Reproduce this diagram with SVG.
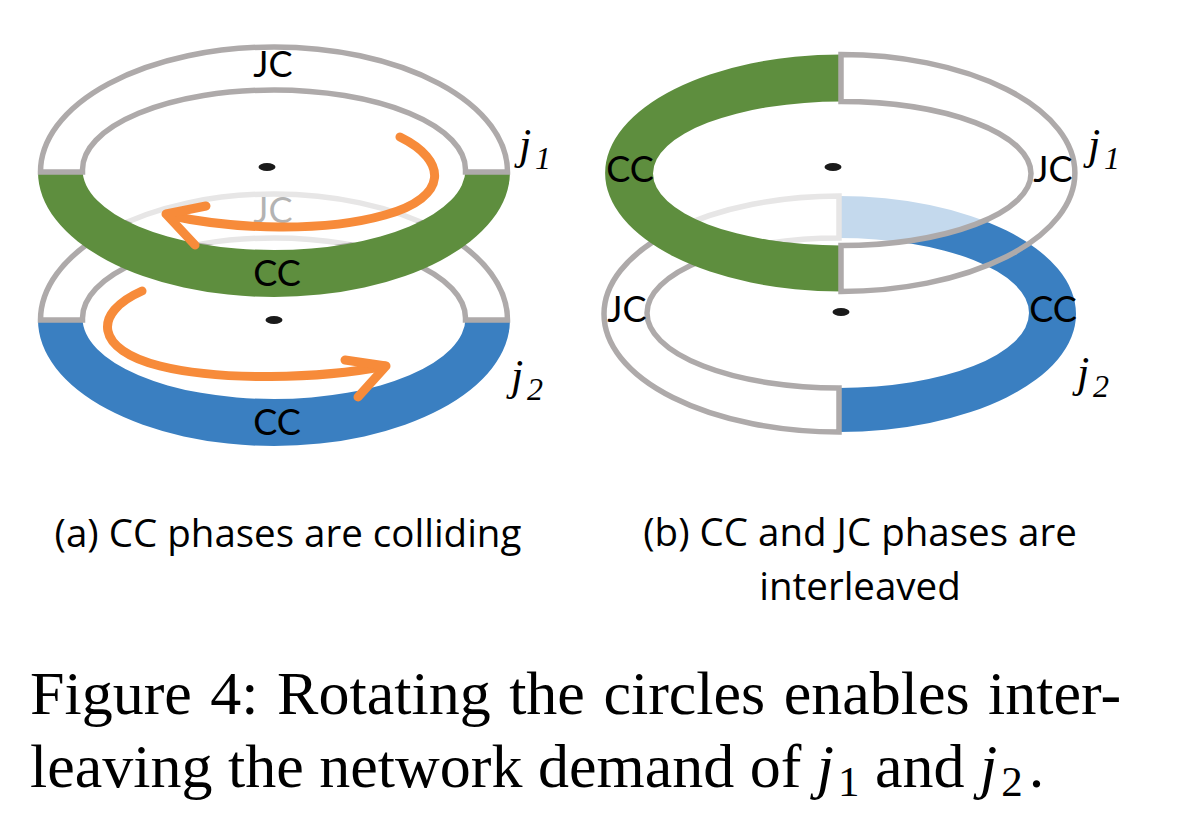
<svg xmlns="http://www.w3.org/2000/svg" width="1182" height="835" viewBox="0 0 1182 835">
<style>
.out{fill:none;stroke:#AEAAAA;stroke-width:5.5;stroke-linejoin:miter}
.green{fill:#5E8E3E}
.blue{fill:#3A7FC1}
.fade{fill:#FFFFFF;fill-opacity:0.7}
.lbl{font-family:Lato,"Open Sans",sans-serif;font-size:36px;fill:#000000;text-anchor:middle}
.arr{fill:none;stroke:#F78B3A;stroke-width:9;stroke-linecap:round;stroke-linejoin:round}
.jl{font-family:"Liberation Serif","Times New Roman",serif;font-style:italic;fill:#000000}
.cap{font-family:"Open Sans",Lato,sans-serif;font-size:38.5px;fill:#000000;text-anchor:middle}
.fig{font-family:"Liberation Serif","Times New Roman",serif;font-size:62px;fill:#000000}
.dot{fill:#1A1A1A}
</style>
<rect width="1182" height="835" fill="#FFFFFF"/>

<!-- (a) left diagram -->
<g id="a-j2">
  <path class="blue" d="M38,320 A236,126 0 0 0 510,320 L465.5,320 L465.5,318 A189,80 0 0 1 82.5,318 L82.5,320 Z"/>
  <path class="out" d="M40.5,320 A233.5,126 0 0 1 507.5,320 L465.5,320 L465.5,318 A191.5,80 0 0 0 82.5,318 L82.5,320 Z"/>
  <text class="lbl" x="273" y="223">JC</text>
  <text class="lbl" x="277" y="435">CC</text>
  <ellipse class="dot" cx="274" cy="320" rx="8.5" ry="4"/>
  <text class="jl" x="511" y="390" font-size="44">j</text>
  <text class="jl" x="527" y="400" font-size="32">2</text>
</g>
<g id="a-j1">
  <ellipse class="fade" cx="274" cy="169.5" rx="191.5" ry="79.5"/>
  <path class="green" d="M38,172 A236,125 0 0 0 510,172 L465.5,172 L465.5,169.5 A189,79.5 0 0 1 82.5,169.5 L82.5,172 Z"/>
  <path class="out" d="M40.5,172 A233.5,125 0 0 1 507.5,172 L465.5,172 L465.5,169.5 A191.5,79.5 0 0 0 82.5,169.5 L82.5,172 Z"/>
  <text class="lbl" x="273" y="77">JC</text>
  <text class="lbl" x="277" y="286">CC</text>
  <ellipse class="dot" cx="267" cy="167" rx="8.5" ry="4"/>
  <text class="jl" x="519" y="159" font-size="44">j</text>
  <text class="jl" x="535" y="169" font-size="32">1</text>
</g>
<g id="a-arrows">
  <path class="arr" d="M400,137 C447,160 450,197 385,215 C325,232 235,230 168,215"/>
  <path class="arr" d="M206,206 L166,214 L195,245"/>
  <path class="arr" d="M142,291 C92,313 95,350 160,366 C220,381 320,379 385,366"/>
  <path class="arr" d="M345,360 L386,366 L358,397"/>
</g>

<!-- (b) right diagram -->
<g id="b-j2">
  <path class="blue" d="M839,196 A237,118 0 0 1 839,432 L839,388 A190,75 0 0 0 839,238 Z"/>
  <path class="out" d="M839,196 A235,118 0 0 0 839,432 L839,388 A192,75 0 0 1 839,238 Z"/>
  <text class="lbl" x="627" y="322">JC</text>
  <text class="lbl" x="1053" y="322">CC</text>
  <ellipse class="dot" cx="841" cy="312" rx="8.5" ry="4"/>
  <text class="jl" x="1077" y="387" font-size="44">j</text>
  <text class="jl" x="1093" y="397" font-size="32">2</text>
</g>
<g id="b-j1">
  <ellipse class="fade" cx="841" cy="173.5" rx="190" ry="72"/>
  <path class="green" d="M841,54.5 A236,118.5 0 0 0 841,291.5 L841,245.5 A188,72 0 0 1 841,101.5 Z"/>
  <path class="out" d="M841,54.5 A234,118.5 0 0 1 841,291.5 L841,245.5 A190,72 0 0 0 841,101.5 Z"/>
  <text class="lbl" x="630" y="182">CC</text>
  <text class="lbl" x="1053" y="182">JC</text>
  <ellipse class="dot" cx="833" cy="167" rx="8.5" ry="4"/>
  <text class="jl" x="1088" y="159" font-size="44">j</text>
  <text class="jl" x="1104" y="169" font-size="32">1</text>
</g>

<!-- captions -->
<g id="captions">
  <text class="cap" x="288" y="547">(a) CC phases are colliding</text>
  <text class="cap" x="860" y="546">(b) CC and JC phases are</text>
  <text class="cap" x="860" y="600">interleaved</text>
  <text class="fig" x="30" y="714" word-spacing="3">Figure 4: Rotating the circles enables inter-</text>
  <text class="fig" x="30" y="787">leaving the network demand of <tspan font-style="italic">j</tspan><tspan font-size="43" dx="4" dy="9">1</tspan><tspan dy="-9"> and </tspan><tspan font-style="italic">j</tspan><tspan font-size="43" dx="4" dy="9">2</tspan><tspan dx="6" dy="-9">.</tspan></text>
</g>
</svg>
